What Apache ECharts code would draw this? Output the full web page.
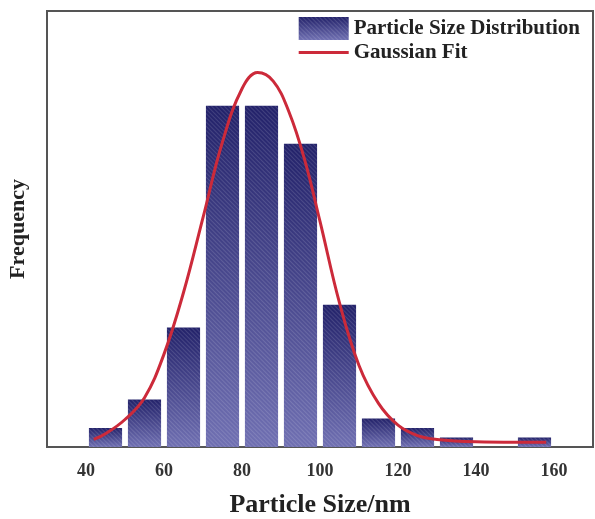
<!DOCTYPE html>
<html>
<head>
<meta charset="utf-8">
<script src="https://cdn.jsdelivr.net/npm/echarts@6/dist/echarts.min.js"></script>
<style>
html,body{margin:0;padding:0;background:#fff;}
#c{width:595px;height:519px;}
</style>
</head>
<body>
<div id="c"></div>
<script>
// Histogram bins (centre, nm) and counts
const binCenters = [45, 55, 65, 75, 85, 95, 105, 115, 125, 135, 145, 155];
const binCounts  = [2, 5, 12.6, 36, 36, 32, 15, 3, 2, 1, 0, 1];
// Gaussian fit curve points
const fitX = [42, 45, 50, 55, 60, 65, 70, 75, 80, 84, 88, 92, 96, 100, 105, 110, 115, 120, 125, 130, 140, 150, 158];
const fitY = [0.8, 1.4, 2.9, 5.2, 9.8, 16.3, 24.2, 32.2, 37.8, 39.5, 38.6, 35.4, 30.4, 23.8, 15.2, 8.6, 4.6, 2.3, 1.2, 0.8, 0.55, 0.5, 0.5];
const xTickLabels = [40, 60, 80, 100, 120, 140, 160];
const seriesNames = ['Particle Size Distribution', 'Gaussian Fit'];
const xAxisName = 'Particle Size/nm';
const yAxisName = 'Frequency';

const font = 'Liberation Serif';
const barGrad = new echarts.graphic.LinearGradient(0, 0, 0, 1, [
  {offset: 0, color: '#23226a'},
  {offset: 1, color: '#7070b2'}
]);

const chart = echarts.init(document.getElementById('c'), null, {renderer: 'canvas'});
chart.setOption({
  animation: false,
  backgroundColor: '#fff',
  grid: {left: 47, right: 2, top: 11, bottom: 72, containLabel: false, outerBoundsMode: 'none',
         show: true, borderColor: '#555', borderWidth: 2, backgroundColor: 'transparent'},
  legend: {
    right: 10, top: 12, orient: 'vertical', itemWidth: 50, itemHeight: 23, itemGap: 2,
    symbolKeepAspect: true,
    textStyle: {fontFamily: font, fontWeight: 'bold', fontSize: 21, color: '#222'},
    data: [
      {name: seriesNames[0], icon: 'rect'},
      {name: seriesNames[1], icon: 'path://M0,0 L50,0 L50,3 L0,3 Z'}
    ]
  },
  xAxis: {
    type: 'value', min: 30, max: 170, interval: 10,
    name: xAxisName, nameLocation: 'middle', nameGap: 45,
    nameTextStyle: {fontFamily: font, fontWeight: 'bold', fontSize: 26, color: '#222'},
    axisLine: {show: false}, axisTick: {show: false}, splitLine: {show: false},
    axisLabel: {
      margin: 15, fontFamily: font, fontWeight: 'bold', fontSize: 18, color: '#333',
      formatter: v => xTickLabels.includes(v) ? String(v) : ''
    }
  },
  yAxis: {
    type: 'value', min: 0, max: 46,
    name: yAxisName, nameLocation: 'middle', nameGap: 18,
    nameTextStyle: {fontFamily: font, fontWeight: 'bold', fontSize: 22, color: '#222'},
    axisLine: {show: false}, axisTick: {show: false}, splitLine: {show: false},
    axisLabel: {show: false}
  },
  series: [
    {
      name: seriesNames[0], type: 'bar', barWidth: '85%',
      data: binCenters.map((c, i) => [c, binCounts[i]]),
      itemStyle: {
        color: barGrad,
        decal: {symbol: 'rect', symbolSize: 1, dashArrayX: [[1, 0]], dashArrayY: [1, 2], rotation: Math.PI / 4, color: 'rgba(255,255,255,0.13)'}
      },
      z: 2
    },
    {
      name: seriesNames[1], type: 'line', smooth: 0.4, symbol: 'none',
      data: fitX.map((x, i) => [x, fitY[i]]),
      lineStyle: {color: '#cc2a3a', width: 3},
      itemStyle: {color: '#cc2a3a'},
      z: 3
    }
  ]
});
</script>
</body>
</html>
